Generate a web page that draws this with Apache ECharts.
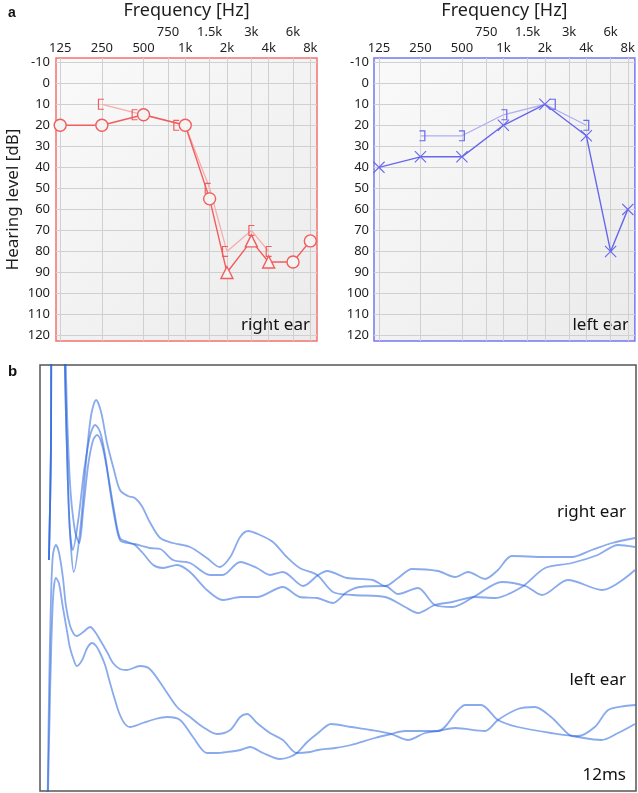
<!DOCTYPE html>
<html><head><meta charset="utf-8">
<script src="https://cdn.jsdelivr.net/npm/echarts@6/dist/echarts.min.js"></script>
<style>html,body{margin:0;padding:0;background:#fff}#c{width:638px;height:793px}</style>
</head><body><div id="c"></div>
<script>
// ---------- audiogram data ----------
const freqTicks = [125, 250, 500, 750, 1000, 1500, 2000, 3000, 4000, 6000, 8000];
const freqLabels = ['125', '250', '500', '750', '1k', '1.5k', '2k', '3k', '4k', '6k', '8k'];
const freqMainRow = [125, 250, 500, 1000, 2000, 4000, 8000];
const freqUpperRow = [750, 1500, 3000, 6000];
const dbTicks = [-10, 0, 10, 20, 30, 40, 50, 60, 70, 80, 90, 100, 110, 120];

const rightAirFreq = [125, 250, 500, 1000, 1500, 2000, 3000, 4000, 6000, 8000];
const rightAirDb = [20, 20, 15, 20, 55, 90, 75, 85, 85, 75];
const rightAirMarker = ['o', 'o', 'o', 'o', 'o', 't', 't', 't', 'o', 'o'];
const rightBoneFreq = [250, 500, 1000, 1500, 2000, 3000, 4000];
const rightBoneDb = [10, 15, 20, 50, 80, 70, 80];

const leftAirFreq = [125, 250, 500, 1000, 2000, 4000, 6000, 8000];
const leftAirDb = [40, 35, 35, 20, 10, 25, 80, 60];
const leftBoneFreq = [250, 500, 1000, 2000, 4000];
const leftBoneDb = [25, 25, 15, 10, 20];

// ---------- ABR waveforms: [time ms, amplitude] ----------
const waveRight1 = [[0.18,2.31],[0.22,3.41],[0.24,5.91],[0.46,5.91],[0.50,4.26],[0.56,3.11],[0.62,2.46],[0.68,2.19],[0.81,2.61],[0.93,3.31],[1.03,3.76],[1.13,3.91],[1.23,3.79],[1.35,3.48],[1.49,3.21],[1.61,3.01],[1.77,2.95],[1.91,2.93],[2.05,2.85],[2.21,2.69],[2.42,2.53],[2.68,2.48],[3.02,2.44],[3.36,2.33],[3.62,2.24],[3.83,2.34],[4.03,2.54],[4.19,2.60],[4.43,2.56],[4.69,2.49],[4.97,2.34],[5.23,2.23],[5.58,2.16],[5.90,1.99],[6.30,1.96],[6.95,1.94],[7.35,1.84],[7.61,1.78],[7.95,1.86],[8.30,1.89],[8.76,1.94],[9.16,1.93],[9.70,2.04],[10.17,2.23],[10.71,2.28],[11.23,2.36],[11.64,2.46],[11.98,2.44]];
const waveRight2 = [[0.18,2.31],[0.22,3.41],[0.24,5.91],[0.46,5.91],[0.50,4.26],[0.56,3.11],[0.60,2.61],[0.66,2.41],[0.77,2.71],[0.89,3.21],[1.01,3.56],[1.11,3.66],[1.21,3.59],[1.31,3.36],[1.41,3.01],[1.51,2.71],[1.61,2.51],[1.75,2.48],[1.91,2.47],[2.05,2.45],[2.21,2.43],[2.42,2.42],[2.68,2.31],[3.02,2.28],[3.42,2.16],[3.68,2.16],[4.03,2.29],[4.37,2.23],[4.63,2.16],[4.89,2.19],[5.30,2.05],[5.60,2.16],[5.78,2.20],[6.18,2.13],[6.70,2.11],[6.95,2.05],[7.21,2.13],[7.49,2.22],[8.01,2.20],[8.36,2.14],[8.62,2.19],[8.96,2.12],[9.22,2.21],[9.50,2.35],[10.17,2.34],[10.71,2.34],[11.11,2.41],[11.52,2.48],[11.98,2.53]];
const waveRight3 = [[0.18,2.31],[0.22,3.41],[0.24,5.91],[0.48,5.91],[0.52,4.26],[0.60,3.11],[0.70,2.61],[0.79,2.48],[0.87,2.81],[0.97,3.26],[1.07,3.51],[1.15,3.56],[1.25,3.46],[1.37,3.16],[1.49,2.81],[1.61,2.53],[1.77,2.49],[1.91,2.46],[2.07,2.38],[2.28,2.26],[2.48,2.23],[2.76,2.26],[3.02,2.19],[3.36,2.01],[3.68,1.91],[4.03,1.94],[4.37,1.94],[4.89,2.04],[5.23,1.94],[5.58,1.93],[5.90,1.88],[6.18,1.99],[6.44,2.04],[6.95,2.05],[7.21,1.97],[7.61,2.03],[7.95,1.86],[8.30,1.84],[8.76,1.95],[9.30,2.09],[9.77,2.05],[10.11,1.96],[10.63,2.11],[11.32,2.01],[11.98,2.21]];
const waveLeft1 = [[0.14,-0.59],[0.18,0.91],[0.22,1.91],[0.26,2.36],[0.32,2.46],[0.38,2.39],[0.46,2.14],[0.52,1.86],[0.60,1.66],[0.68,1.57],[0.74,1.55],[0.87,1.59],[1.01,1.64],[1.11,1.59],[1.21,1.51],[1.35,1.39],[1.47,1.28],[1.61,1.22],[1.75,1.21],[2.01,1.25],[2.21,1.22],[2.48,1.04],[2.76,0.84],[3.02,0.74],[3.28,0.64],[3.56,0.57],[3.83,0.61],[4.03,0.74],[4.17,0.77],[4.37,0.68],[4.63,0.58],[4.89,0.51],[5.17,0.38],[5.44,0.39],[5.60,0.41],[5.94,0.43],[6.26,0.46],[6.74,0.53],[7.07,0.57],[7.35,0.60],[8.01,0.60],[8.42,0.81],[8.56,0.86],[8.88,0.86],[9.22,0.71],[9.62,0.64],[10.29,0.58],[10.83,0.55],[11.17,0.64],[11.44,0.81],[11.78,0.85],[12.0,0.86]];
const waveLeft2 = [[0.14,-0.59],[0.20,0.91],[0.26,1.91],[0.32,2.13],[0.38,2.08],[0.46,1.84],[0.54,1.61],[0.60,1.44],[0.68,1.31],[0.74,1.25],[0.85,1.31],[0.95,1.43],[1.05,1.48],[1.13,1.45],[1.21,1.38],[1.31,1.26],[1.41,1.08],[1.51,0.91],[1.61,0.76],[1.71,0.67],[1.81,0.64],[2.07,0.68],[2.32,0.72],[2.56,0.74],[2.82,0.71],[3.08,0.54],[3.36,0.38],[3.56,0.38],[3.77,0.39],[4.03,0.41],[4.23,0.44],[4.49,0.38],[4.83,0.32],[5.03,0.34],[5.17,0.38],[5.38,0.49],[5.60,0.58],[5.86,0.67],[6.26,0.64],[6.66,0.61],[7.07,0.57],[7.41,0.51],[7.75,0.58],[8.01,0.60],[8.36,0.63],[8.96,0.60],[9.22,0.71],[9.62,0.82],[9.96,0.84],[10.29,0.74],[10.66,0.56],[10.83,0.54],[11.30,0.51],[11.64,0.58],[11.98,0.67]];

// ---------- styles ----------
const oct = f => Math.log2(f / 125);
const RED = '#f25c5c', RED_LIGHT = '#f7abab', RED_BORDER = '#f47171';
const BLUE = '#6767ee', BLUE_LIGHT = '#adadf5', BLUE_BORDER = '#7676f2';
const SYM_FILL = '#f3f3f3';
const GRID_LINE = '#d0d0d0';
const LABEL = '#1e1e1e';
const FONT = 'Noto Sans';
const bracketL = 'path://M0,0 L6,0 L6,1.2 L1.2,1.2 L1.2,10.8 L6,10.8 L6,12 L0,12 Z';
const bracketR = 'path://M0,0 L6,0 L6,12 L0,12 L0,10.8 L4.8,10.8 L4.8,1.2 L0,1.2 Z';
const crossX = 'path://M0,0.8 L0.8,0 L6,5.2 L11.2,0 L12,0.8 L6.8,6 L12,11.2 L11.2,12 L6,6.8 L0.8,12 L0,11.2 L5.2,6 Z';
const rightBoneShiftPx = [-1, -9, -9, -2, -2, 0, 0];
const leftBoneShiftPx = [2, 0, 1, 8, 0];
const waveColor = 'rgba(40,100,220,0.55)';

const freqFormatter = v => {
  const i = freqTicks.findIndex(f => Math.abs(oct(f) - v) < 1e-6);
  return i >= 0 ? freqLabels[i] : '';
};
const bg = { type: 'linear', x: 0, y: 0, x2: 1, y2: 1,
  colorStops: [{ offset: 0, color: '#fafafa' }, { offset: 1, color: '#ebebeb' }] };

function freqAxes(gridIndex, min, max) {
  const main = {
    gridIndex, type: 'value', position: 'top', min, max,
    axisLine: { show: false },
    axisTick: { show: false, customValues: freqTicks.map(oct) },
    splitLine: { show: true, lineStyle: { color: GRID_LINE, width: 1 } },
    axisLabel: { customValues: freqMainRow.map(oct), formatter: freqFormatter, margin: 3,
      fontSize: 13, color: LABEL, fontFamily: FONT },
    name: 'Frequency [Hz]', nameLocation: 'middle', nameGap: 38,
    nameTextStyle: { fontSize: 18, color: LABEL, fontFamily: FONT }
  };
  const upper = {
    gridIndex, type: 'value', position: 'top', offset: 16, min, max,
    axisLine: { show: false }, axisTick: { show: false }, splitLine: { show: false },
    axisLabel: { customValues: freqUpperRow.map(oct), formatter: freqFormatter, margin: 3,
      fontSize: 13, color: LABEL, fontFamily: FONT }
  };
  return [main, upper];
}
function dbAxis(gridIndex, margin, withName) {
  const a = {
    gridIndex, type: 'value', inverse: true, min: -12, max: 122.6,
    axisLine: { show: false },
    axisTick: { show: false, customValues: dbTicks },
    splitLine: { show: true, lineStyle: { color: GRID_LINE, width: 1 } },
    axisLabel: { customValues: dbTicks, margin, fontSize: 13, color: LABEL, fontFamily: FONT }
  };
  if (withName) {
    a.name = 'Hearing level [dB]';
    a.nameLocation = 'middle';
    a.nameGap = 34;
    a.nameTextStyle = { fontSize: 17, color: LABEL, fontFamily: FONT };
  }
  return a;
}

const waveSeries = [waveRight1, waveRight2, waveRight3, waveLeft1, waveLeft2].map(d => ({
  type: 'line', xAxisIndex: 4, yAxisIndex: 2, data: d, showSymbol: false, smooth: 0.3,
  clip: true, lineStyle: { color: waveColor, width: 1.8 }, silent: true
}));

const option = {
  animation: false,
  textStyle: { fontFamily: FONT },
  grid: [
    { left: 56, top: 58, width: 261, height: 283, show: true, borderColor: RED_BORDER, borderWidth: 1.5, backgroundColor: bg },
    { left: 374, top: 58, width: 262, height: 283, show: true, borderColor: BLUE_BORDER, borderWidth: 1.5, backgroundColor: bg },
    { left: 40, top: 365, width: 596, height: 426, show: true, borderColor: '#555', borderWidth: 1.5, backgroundColor: '#fff' }
  ],
  xAxis: [
    ...freqAxes(0, -0.1, 6.16),
    ...freqAxes(1, -0.12, 6.17),
    { gridIndex: 2, type: 'value', min: 0, max: 12, show: false }
  ],
  yAxis: [
    dbAxis(0, 6, true),
    dbAxis(1, 5, false),
    { gridIndex: 2, type: 'value', min: 0, max: 4.26, show: false }
  ],
  series: [
    { type: 'line', xAxisIndex: 0, yAxisIndex: 0, z: 2,
      data: rightBoneFreq.map((f, i) => ({ value: [oct(f), rightBoneDb[i]], symbolOffset: [rightBoneShiftPx[i], 0] })),
      symbol: bracketL, symbolSize: [6, 11], itemStyle: { color: RED, borderWidth: 0 },
      lineStyle: { color: RED_LIGHT, width: 1.3 } },
    { type: 'line', xAxisIndex: 0, yAxisIndex: 0, z: 3,
      data: rightAirFreq.map((f, i) => ({ value: [oct(f), rightAirDb[i]], symbol: rightAirMarker[i] === 't' ? 'triangle' : 'circle' })),
      symbolSize: 12, itemStyle: { color: SYM_FILL, borderColor: RED, borderWidth: 1.4 },
      lineStyle: { color: RED, width: 1.4 } },
    { type: 'line', xAxisIndex: 2, yAxisIndex: 1, z: 2,
      data: leftBoneFreq.map((f, i) => ({ value: [oct(f), leftBoneDb[i]], symbolOffset: [leftBoneShiftPx[i], 0] })),
      symbol: bracketR, symbolSize: [6, 11], itemStyle: { color: BLUE, borderWidth: 0 },
      lineStyle: { color: BLUE_LIGHT, width: 1.3 } },
    { type: 'line', xAxisIndex: 2, yAxisIndex: 1, z: 3,
      data: leftAirFreq.map((f, i) => [oct(f), leftAirDb[i]]),
      symbol: crossX, symbolSize: 12, itemStyle: { color: BLUE, borderWidth: 0 },
      lineStyle: { color: BLUE, width: 1.4 } },
    ...waveSeries
  ],
  graphic: [
    { type: 'text', x: 8, y: 6, style: { text: 'a', fill: '#111', font: 'bold 14px "Liberation Sans"' } },
    { type: 'text', x: 8, y: 364, style: { text: 'b', fill: '#111', font: 'bold 15px "Liberation Sans"' } },
    { type: 'text', x: 310, y: 325, style: { text: 'right ear', fill: '#111', font: '17px "Noto Sans"', align: 'right', verticalAlign: 'middle' } },
    { type: 'text', x: 629, y: 325, style: { text: 'left ear', fill: '#111', font: '17px "Noto Sans"', align: 'right', verticalAlign: 'middle' } },
    { type: 'text', x: 626, y: 512, style: { text: 'right ear', fill: '#111', font: '17px "Noto Sans"', align: 'right', verticalAlign: 'middle' } },
    { type: 'text', x: 626, y: 680, style: { text: 'left ear', fill: '#111', font: '17px "Noto Sans"', align: 'right', verticalAlign: 'middle' } },
    { type: 'text', x: 626, y: 775, style: { text: '12ms', fill: '#111', font: '17px "Noto Sans"', align: 'right', verticalAlign: 'middle' } }
  ]
};
const chart = echarts.init(document.getElementById('c'), null, { renderer: 'canvas' });
chart.setOption(option);
</script>
</body></html>
